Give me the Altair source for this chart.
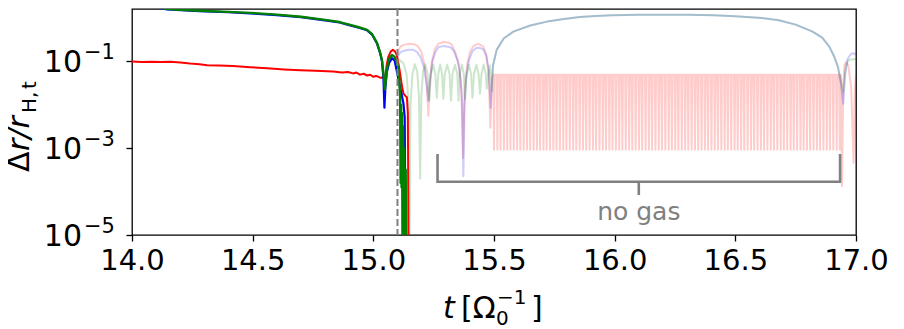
import altair as alt
import pandas as pd

# ---------------- data (log10 of Δr/r_H,t) ----------------
red_solid_t = [14.00, 14.04, 14.08, 14.12, 14.16, 14.20, 14.241, 14.28, 14.311, 14.36,
               14.419, 14.49, 14.56, 14.63, 14.697, 14.76, 14.833, 14.87, 14.895, 14.916,
               14.93, 14.945, 14.96, 14.974, 14.987, 14.999, 15.012, 15.028, 15.040, 15.048,
               15.055, 15.062, 15.072, 15.081, 15.090, 15.097, 15.104, 15.111, 15.118, 15.125,
               15.133, 15.139, 15.143, 15.146]
red_solid_log = [-1.010, -1.018, -1.012, -1.022, -1.015, -1.030, -1.054, -1.070, -1.095, -1.100,
                 -1.112, -1.140, -1.165, -1.190, -1.210, -1.222, -1.240, -1.262, -1.250, -1.282,
                 -1.262, -1.310, -1.290, -1.330, -1.312, -1.360, -1.340, -1.380, -1.375, -1.420,
                 -1.100, -0.900, -0.780, -0.740, -0.780, -0.860, -1.050, -1.280, -1.550, -1.750,
                 -1.800, -1.830, -2.200, -5.500]

blue_solid_t = [14.00, 14.07, 14.146, 14.28, 14.40, 14.49, 14.60, 14.70, 14.80, 14.86,
                14.90, 14.94, 14.974, 14.995, 15.015, 15.028, 15.036, 15.042, 15.046, 15.050,
                15.056, 15.065, 15.077, 15.088, 15.100, 15.111, 15.125, 15.130, 15.133]
blue_solid_log = [0.33, 0.26, 0.19, 0.15, 0.125, 0.10, 0.06, 0.012, -0.06, -0.11,
                  -0.17, -0.23, -0.29, -0.39, -0.59, -0.81, -1.00, -1.40, -2.07, -1.60,
                  -1.25, -1.05, -0.93, -0.98, -1.30, -1.60, -1.98, -2.30, -5.50]

green_solid_t = [14.00, 14.07, 14.146, 14.28, 14.40, 14.49, 14.60, 14.70, 14.80, 14.86,
                 14.90, 14.94, 14.974, 14.995, 15.015, 15.028, 15.036, 15.042, 15.048, 15.054,
                 15.062, 15.070, 15.077, 15.088, 15.098, 15.104, 15.108, 15.111, 15.113, 15.115,
                 15.117, 15.119, 15.121, 15.123, 15.126, 15.128, 15.131, 15.134, 15.137]
green_solid_log = [0.34, 0.27, 0.20, 0.16, 0.135, 0.112, 0.07, 0.023, -0.05, -0.10,
                   -0.16, -0.22, -0.28, -0.38, -0.58, -0.80, -0.98, -1.30, -1.65, -1.30,
                   -1.00, -0.90, -0.86, -0.90, -1.05, -1.13, -1.50, -1.83, -3.80, -2.00,
                   -3.90, -2.20, -5.50, -2.50, -5.50, -3.00, -5.50, -3.50, -5.50]

# gas-free continuations (faint)
lblue_t = [15.100, 15.105, 15.112, 15.120, 15.135, 15.150, 15.165, 15.180, 15.195, 15.210,
           15.220, 15.228, 15.235, 15.245, 15.258, 15.270, 15.283, 15.295, 15.307, 15.320,
           15.335, 15.350, 15.362, 15.368, 15.373, 15.378, 15.385, 15.395, 15.410, 15.425,
           15.440, 15.455, 15.468, 15.478, 15.486, 15.490, 15.496, 15.511, 15.540, 15.580,
           15.650, 15.720, 15.790, 15.856, 15.920, 15.990, 16.100, 16.200, 16.300, 16.410,
           16.500, 16.610, 16.680, 16.750, 16.820, 16.860, 16.890, 16.910, 16.925, 16.937,
           16.947, 16.955, 16.965, 16.980, 16.990, 17.000]
lblue_log = [-0.93, -0.85, -0.80, -0.77, -0.75, -0.74, -0.74, -0.78, -0.90, -1.15,
             -1.50, -1.91, -1.40, -1.00, -0.78, -0.68, -0.66, -0.65, -0.67, -0.68,
             -0.78, -1.00, -1.40, -2.00, -3.65, -2.00, -1.40, -1.00, -0.78, -0.70,
             -0.69, -0.73, -0.88, -1.20, -2.07, -1.60, -1.10, -0.74, -0.48, -0.32,
             -0.18, -0.09, -0.03, 0.016, 0.04, 0.054, 0.068, 0.07, 0.066, 0.054,
             0.035, -0.006, -0.06, -0.16, -0.32, -0.46, -0.67, -0.90, -1.13, -1.50,
             -1.98, -1.30, -0.95, -0.83, -0.82, -0.85]

lgreen_t = [15.100, 15.110, 15.125, 15.138, 15.146, 15.150, 15.154, 15.162, 15.172, 15.182,
            15.189, 15.194, 15.199, 15.206, 15.215, 15.225, 15.232, 15.239, 15.248, 15.257,
            15.263, 15.269, 15.277, 15.285, 15.290, 15.296, 15.306, 15.316, 15.322, 15.328,
            15.338, 15.348, 15.353, 15.358, 15.367, 15.375, 15.380, 15.386, 15.396, 15.405,
            15.411, 15.417, 15.427, 15.436, 15.442, 15.448, 15.457, 15.466, 15.470, 15.476,
            15.483, 15.488, 15.491, 15.496, 15.511, 15.540, 15.580, 15.650, 15.720, 15.790,
            15.856, 15.920, 15.990, 16.100, 16.200, 16.300, 16.410, 16.500, 16.610, 16.680,
            16.750, 16.820, 16.860, 16.890, 16.910, 16.925, 16.937, 16.947, 16.957, 16.968,
            16.980, 17.000]
lgreen_log = [-0.95, -0.98, -1.05, -1.30, -2.00, -5.50, -2.00, -1.30, -1.07, -1.25,
              -1.80, -3.70, -1.80, -1.25, -1.07, -1.30, -1.91, -1.30, -1.08, -1.30,
              -1.84, -1.30, -1.08, -1.30, -1.87, -1.30, -1.08, -1.30, -1.91, -1.30,
              -1.08, -1.30, -1.91, -1.30, -1.08, -1.30, -1.87, -1.30, -1.08, -1.30,
              -1.84, -1.30, -1.08, -1.30, -1.75, -1.30, -1.08, -1.30, -1.63, -1.30,
              -1.10, -1.35, -1.70, -1.10, -0.74, -0.48, -0.32, -0.18, -0.09, -0.03,
              0.016, 0.04, 0.054, 0.068, 0.07, 0.066, 0.054, 0.035, -0.006, -0.06,
              -0.16, -0.32, -0.46, -0.67, -0.90, -1.13, -1.45, -1.70, -1.15, -0.98,
              -0.96, -0.95]

lred_pre_t = [15.100, 15.107, 15.115, 15.130, 15.150, 15.170, 15.185, 15.200, 15.213, 15.222,
              15.228, 15.234, 15.243, 15.255, 15.270, 15.290, 15.310, 15.325, 15.340, 15.355,
              15.365, 15.372, 15.378, 15.388, 15.400, 15.415, 15.435, 15.455, 15.468, 15.478,
              15.485, 15.491]
lred_pre_log = [-0.86, -0.72, -0.65, -0.62, -0.60, -0.61, -0.66, -0.80, -1.10, -1.60,
                -2.26, -1.50, -1.00, -0.72, -0.60, -0.56, -0.57, -0.62, -0.80, -1.10,
                -1.70, -3.23, -1.70, -1.10, -0.80, -0.65, -0.60, -0.66, -0.85, -1.30,
                -2.53, -1.40]
# rapid oscillation of the faint red curve: trough times, plateau and trough levels
lred_osc_t = [15.500, 15.514, 15.527, 15.541, 15.555, 15.568, 15.582, 15.596, 15.609, 15.623,
              15.637, 15.650, 15.664, 15.678, 15.691, 15.705, 15.718, 15.732, 15.746, 15.759,
              15.773, 15.787, 15.800, 15.814, 15.828, 15.841, 15.855, 15.869, 15.882, 15.896,
              15.910, 15.923, 15.937, 15.951, 15.964, 15.978, 15.991, 16.005, 16.019, 16.032,
              16.046, 16.060, 16.073, 16.087, 16.101, 16.114, 16.128, 16.142, 16.155, 16.169,
              16.183, 16.196, 16.210, 16.224, 16.237, 16.251, 16.264, 16.278, 16.292, 16.305,
              16.319, 16.333, 16.346, 16.360, 16.374, 16.387, 16.401, 16.415, 16.428, 16.442,
              16.456, 16.469, 16.483, 16.497, 16.510, 16.524, 16.537, 16.551, 16.565, 16.578,
              16.592, 16.606, 16.619, 16.633, 16.647, 16.660, 16.674, 16.688, 16.701, 16.715,
              16.729, 16.742, 16.756, 16.770, 16.783, 16.797, 16.810, 16.824, 16.838, 16.851,
              16.865, 16.879, 16.892, 16.906, 16.920, 16.933]
lred_osc_top = -1.31
lred_osc_bottom = -3.04
lred_post_t = [16.938, 16.942, 16.947, 16.952, 16.958, 16.968, 16.980, 16.990, 16.995, 17.000]
lred_post_log = [-1.33, -3.88, -1.60, -1.10, -1.02, -1.10, -1.60, -3.34, -1.70, -1.30]

gas_off_t = [15.10]
bracket_t = [15.266, 15.266, 16.934, 16.934]
bracket_v = [7.3e-4, 1.68e-4, 1.68e-4, 7.3e-4]
bracket_mid_t = [16.10, 16.10]
bracket_mid_v = [1.68e-4, 8.3e-5]
nogas_t, nogas_v = [16.10], [2.2e-5]

xtick_vals = [14.0, 14.5, 15.0, 15.5, 16.0, 16.5, 17.0]
ytick_vals = [1e-1, 1e-3, 1e-5]
ytick_base = ["10", "10", "10"]
ytick_exp = ["\u22121", "\u22123", "\u22125"]


def frame(ts, logs):
    return pd.DataFrame({"t": ts, "v": [10.0 ** x for x in logs], "i": list(range(len(ts)))})


lred_t, lred_log = list(lred_pre_t), list(lred_pre_log)
for tk in lred_osc_t:
    lred_t += [tk - 0.0025, tk, tk + 0.0025]
    lred_log += [lred_osc_top, lred_osc_bottom, lred_osc_top]
lred_t += lred_post_t
lred_log += lred_post_log

FONT = "DejaVu Sans"
xs = alt.Scale(domain=[14, 17], nice=False, zero=False)
ys = alt.Scale(type="log", domain=[1e-5, 10 ** 0.2], nice=False)
xaxis = alt.Axis(values=xtick_vals, format=".1f", labelFontSize=29, labelFont=FONT,
                 labelColor="black", tickSize=6, tickColor="black", tickWidth=1.3,
                 domain=False, grid=False, title=None, labelPadding=5,
                 labelFlush=False, labelOverlap=False, labelBound=False)
yaxis = alt.Axis(values=ytick_vals, labels=False, tickSize=6, tickColor="black",
                 tickWidth=1.3, domain=False, grid=False, title=None)
X = alt.X("t:Q", scale=xs, axis=xaxis)
Y = alt.Y("v:Q", scale=ys, axis=yaxis)


def line(df, color, width, opacity=1.0):
    return alt.Chart(df).mark_line(clip=True, color=color, strokeWidth=width,
                                   opacity=opacity, strokeJoin="round").encode(
        x=X, y=Y, order="i:Q")


layers = [
    line(frame(lred_t, lred_log), "#ff0000", 2.0, 0.2),
    line(frame(lblue_t, lblue_log), "#0000ff", 2.0, 0.2),
    line(frame(lgreen_t, lgreen_log), "#008000", 2.0, 0.2),
    line(frame(red_solid_t, red_solid_log), "#ff0000", 2.0),
    line(frame(blue_solid_t, blue_solid_log), "#0000ff", 2.2),
    line(frame(green_solid_t, green_solid_log), "#008000", 2.4),
]

layers.append(alt.Chart(pd.DataFrame({"t": gas_off_t})).mark_rule(
    color="#808080", strokeWidth=2, strokeDash=[7, 3]).encode(x=X))

layers.append(alt.Chart(pd.DataFrame({"t": bracket_t, "v": bracket_v, "i": [0, 1, 2, 3]}))
              .mark_line(color="#808080", strokeWidth=2.6, strokeJoin="miter", strokeCap="butt")
              .encode(x=X, y=Y, order="i:Q"))
layers.append(alt.Chart(pd.DataFrame({"t": bracket_mid_t, "v": bracket_mid_v, "i": [0, 1]}))
              .mark_line(color="#808080", strokeWidth=2.6, strokeCap="butt")
              .encode(x=X, y=Y, order="i:Q"))
layers.append(alt.Chart(pd.DataFrame({"t": nogas_t, "v": nogas_v, "s": ["no gas"]}))
              .mark_text(font=FONT, fontSize=25, color="#808080", align="center",
                         baseline="alphabetic")
              .encode(x=X, y=Y, text="s:N"))

# y tick labels as 10 with superscript exponent
ylab = pd.DataFrame({"v": ytick_vals, "b": ytick_base, "e": ytick_exp})
layers.append(alt.Chart(ylab).mark_text(font=FONT, fontSize=30, color="black", align="right",
                                        baseline="alphabetic", dy=11)
              .encode(x=alt.value(-50), y=Y, text="b:N"))
layers.append(alt.Chart(ylab).mark_text(font=FONT, fontSize=21, color="black", align="left",
                                        baseline="alphabetic", dy=-2)
              .encode(x=alt.value(-48), y=Y, text="e:N"))

one = pd.DataFrame({"k": [0]})


def label(txt, x, y, size, italic=False, angle=0):
    kw = dict(font=FONT, fontSize=size, color="black", align="left", baseline="alphabetic",
              text=txt)
    if italic:
        kw["fontStyle"] = "italic"
    if angle:
        kw["angle"] = angle
    return alt.Chart(one).mark_text(**kw).encode(x=alt.value(x), y=alt.value(y))


# x-axis title  t [Ω_0^-1]
layers += [
    label("t", 311, 309, 30, italic=True),
    label("[Ω", 329, 309, 30),
    label("0", 364, 316, 20),
    label("\u22121", 365, 295, 20),
    label("]", 399, 309, 30),
]
# y-axis title  Δr / r_{H,t}
layers += [
    label("Δ", -103, 163, 30, angle=270),
    label("r/r", -103, 142, 30, italic=True, angle=270),
    label("H,", -96, 104, 20, angle=270),
    label("t", -96, 80, 20, angle=270),
]

chart = alt.layer(*layers).properties(
    width=724, height=226,
    autosize=alt.AutoSizeParams(type="none"),
    padding={"left": 124, "top": 1, "right": 32, "bottom": 94},
    background="white",
).configure(font=FONT).configure_view(stroke="black", strokeWidth=1.3)

chart.save("out.html", embed_options={"renderer": "svg", "actions": False})
